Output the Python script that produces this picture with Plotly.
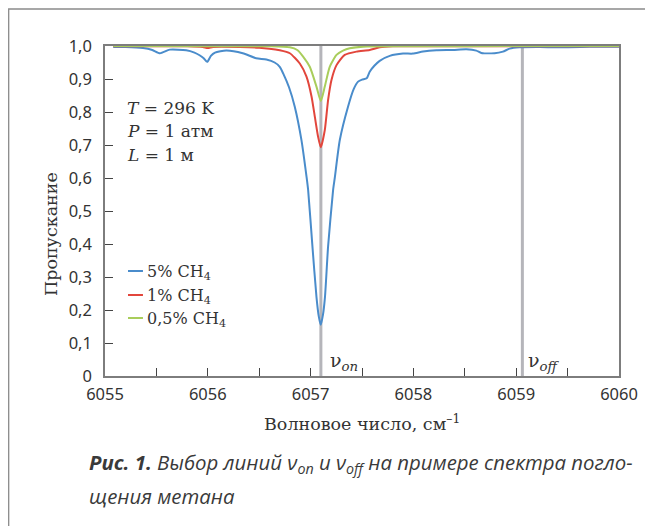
import plotly.graph_objects as go

# ---------------- data ----------------
x_blue = [6055.08, 6055.20, 6055.37, 6055.46, 6055.535, 6055.63, 6055.79, 6055.87, 6055.92, 6055.96,
          6055.994, 6056.03, 6056.07, 6056.18, 6056.34, 6056.47, 6056.57, 6056.65, 6056.70, 6056.733,
          6056.79, 6056.846, 6056.911, 6056.96, 6056.976, 6057.018, 6057.057, 6057.08, 6057.099,
          6057.12, 6057.14, 6057.17, 6057.219, 6057.235, 6057.284, 6057.364, 6057.42, 6057.462,
          6057.50, 6057.546, 6057.575, 6057.62, 6057.672, 6057.77, 6057.899, 6057.996, 6058.093,
          6058.224, 6058.385, 6058.515, 6058.612, 6058.661, 6058.79, 6058.871, 6058.936, 6059.033,
          6059.23, 6059.39, 6059.62, 6059.81, 6060.0]
y_blue = [0.997, 0.997, 0.994, 0.988, 0.978, 0.989, 0.987, 0.980, 0.972, 0.963,
          0.952, 0.970, 0.980, 0.986, 0.978, 0.963, 0.959, 0.950, 0.937, 0.917,
          0.875, 0.816, 0.715, 0.605, 0.564, 0.392, 0.240, 0.180, 0.155,
          0.185, 0.240, 0.392, 0.564, 0.600, 0.715, 0.816, 0.870, 0.892,
          0.898, 0.902, 0.922, 0.940, 0.955, 0.970, 0.977, 0.977, 0.983,
          0.987, 0.988, 0.990, 0.986, 0.979, 0.978, 0.983, 0.992, 0.996,
          0.997, 0.996, 0.997, 0.998, 0.998]

x_red = [6055.08, 6055.80, 6055.95, 6056.00, 6056.05, 6056.31, 6056.50, 6056.60, 6056.70, 6056.798,
         6056.895, 6056.96, 6057.009, 6057.041, 6057.073, 6057.099, 6057.138, 6057.17, 6057.203,
         6057.252, 6057.332, 6057.446, 6057.575, 6057.672, 6057.80, 6058.2, 6059.0, 6060.0]
y_red = [0.999, 0.999, 0.997, 0.994, 0.997, 0.997, 0.995, 0.992, 0.987, 0.978,
         0.947, 0.907, 0.847, 0.786, 0.725, 0.693, 0.745, 0.836, 0.897,
         0.942, 0.973, 0.983, 0.988, 0.996, 0.999, 0.999, 0.999, 0.999]

x_green = [6055.08, 6056.0, 6056.60, 6056.798, 6056.87, 6056.927, 6056.992, 6057.057, 6057.099,
           6057.138, 6057.186, 6057.252, 6057.32, 6057.381, 6057.51, 6058.0, 6059.0, 6060.0]
y_green = [1.0, 0.999, 0.999, 0.996, 0.988, 0.968, 0.937, 0.877, 0.833,
           0.877, 0.937, 0.973, 0.987, 0.993, 0.998, 0.999, 1.0, 1.0]

series_names = ["5% CH<sub>4</sub>", "1% CH<sub>4</sub>", "0,5% CH<sub>4</sub>"]
series_colors = ["#4a8ccb", "#e2463c", "#a9cd5b"]

nu_on = 6057.10
nu_off = 6059.06

x_tickvals = [6055, 6055.5, 6056, 6056.5, 6057, 6057.5, 6058, 6058.5, 6059, 6059.5, 6060]
x_ticktext = ["6055", "", "6056", "", "6057", "", "6058", "", "6059", "", "6060"]
y_tickvals = [0, 0.1, 0.2, 0.3, 0.4, 0.5, 0.6, 0.7, 0.8, 0.9, 1.0]
y_ticktext = ["0", "0,1", "0,2", "0,3", "0,4", "0,5", "0,6", "0,7", "0,8", "0,9", "1,0"]

conditions = ["<i>T</i> = 296 K", "<i>P</i> = 1 атм", "<i>L</i> = 1 м"]

# ---------------- geometry (screen pixels; page body has an 8px margin) ----------------
OFF = 8
W, H = 653 - OFF, 526 - OFF
L0, R0, T0, B0 = 105, 619.5, 46, 376   # plot area in screen pixels


def px(x):
    return (x - L0) / (R0 - L0)


def py(y):
    return (B0 - y) / (B0 - T0)


SERIF = "DejaVu Serif"
SANS = "Noto Sans"
TXT = "#333333"
AX = "#7d7d7d"

fig = go.Figure()
for xs, ys, nm, col in zip([x_blue, x_red, x_green], [y_blue, y_red, y_green],
                           series_names, series_colors):
    fig.add_trace(go.Scatter(x=xs, y=ys, mode="lines", name=nm,
                             line=dict(color=col, width=2, shape="spline", smoothing=0.6),
                             showlegend=False))

shapes = []
for xv in (nu_on, nu_off):
    shapes.append(dict(type="line", xref="x", yref="paper", x0=xv, x1=xv, y0=0, y1=1,
                       line=dict(color="#b5b5ba", width=3), layer="below"))
# outer frame
shapes.append(dict(type="rect", xref="paper", yref="paper",
                   x0=px(8.6), x1=px(720), y0=py(600), y1=py(9),
                   line=dict(color="#8a8a8a", width=1.3), layer="below"))

annotations = []
leg_y = [271, 295, 318]
for yy, nm, col in zip(leg_y, series_names, series_colors):
    shapes.append(dict(type="line", xref="paper", yref="paper",
                       x0=px(128), x1=px(143), y0=py(yy), y1=py(yy),
                       line=dict(color=col, width=2)))
    annotations.append(dict(xref="paper", yref="paper", x=px(145), y=py(yy + 1), text=nm,
                            showarrow=False, xanchor="left", yanchor="middle",
                            font=dict(family=SERIF, size=16, color=TXT)))

for yy, t in zip([108, 131, 155], conditions):
    annotations.append(dict(xref="paper", yref="paper", x=px(125), y=py(yy), text=t,
                            showarrow=False, xanchor="left", yanchor="middle",
                            font=dict(family=SERIF, size=17, color=TXT)))

annotations.append(dict(xref="paper", yref="paper", x=px(328), y=py(361),
                        text="ν<sub><i>on</i></sub>", showarrow=False,
                        xanchor="left", yanchor="middle",
                        font=dict(family=SERIF, size=19, color=TXT)))
annotations.append(dict(xref="paper", yref="paper", x=px(526), y=py(361),
                        text="ν<sub><i>off</i></sub>", showarrow=False,
                        xanchor="left", yanchor="middle",
                        font=dict(family=SERIF, size=19, color=TXT)))

annotations.append(dict(xref="paper", yref="paper", x=px(51), y=py(234),
                        text="Пропускание", textangle=-90, showarrow=False,
                        xanchor="center", yanchor="middle",
                        font=dict(family=SERIF, size=17.5, color=TXT)))
annotations.append(dict(xref="paper", yref="paper", x=px(362), y=py(423),
                        text="Волновое число, см<sup>–1</sup>", showarrow=False,
                        xanchor="center", yanchor="middle",
                        font=dict(family=SERIF, size=17.5, color=TXT)))

CAP = "Open Sans"
annotations.append(dict(xref="paper", yref="paper", x=px(87), y=py(463),
                        text="<b><i>Рис. 1.</i></b><i> Выбор линий ν<sub>on</sub> и ν<sub>off</sub> на примере спектра погло-</i>",
                        showarrow=False, xanchor="left", yanchor="middle",
                        font=dict(family=CAP, size=20.4, color="#3a3a3a")))
annotations.append(dict(xref="paper", yref="paper", x=px(87), y=py(496),
                        text="<i>щения метана</i>",
                        showarrow=False, xanchor="left", yanchor="middle",
                        font=dict(family=CAP, size=20.4, color="#3a3a3a")))

fig.update_layout(
    width=W, height=H,
    margin=dict(l=L0 - OFF, r=653 - R0, t=T0 - OFF, b=526 - B0, pad=0),
    paper_bgcolor="white", plot_bgcolor="white",
    shapes=shapes, annotations=annotations,
    showlegend=False,
)
fig.update_xaxes(range=[6055, 6060], tickvals=x_tickvals, ticktext=x_ticktext,
                 ticks="inside", ticklen=8, tickwidth=1.3, tickcolor="#444444",
                 showline=True, linecolor=AX, linewidth=1.5, mirror=True,
                 showgrid=False, zeroline=False, ticklabelstandoff=2,
                 tickfont=dict(family=SANS, size=16.5, color=TXT))
fig.update_yaxes(range=[0, 1.0], tickvals=y_tickvals, ticktext=y_ticktext,
                 ticks="inside", ticklen=8, tickwidth=1.3, tickcolor="#444444",
                 showline=True, linecolor=AX, linewidth=1.5, mirror=True,
                 showgrid=False, zeroline=False, ticklabelstandoff=8,
                 tickfont=dict(family=SANS, size=16.5, color=TXT))

fig.write_html("out.html")
